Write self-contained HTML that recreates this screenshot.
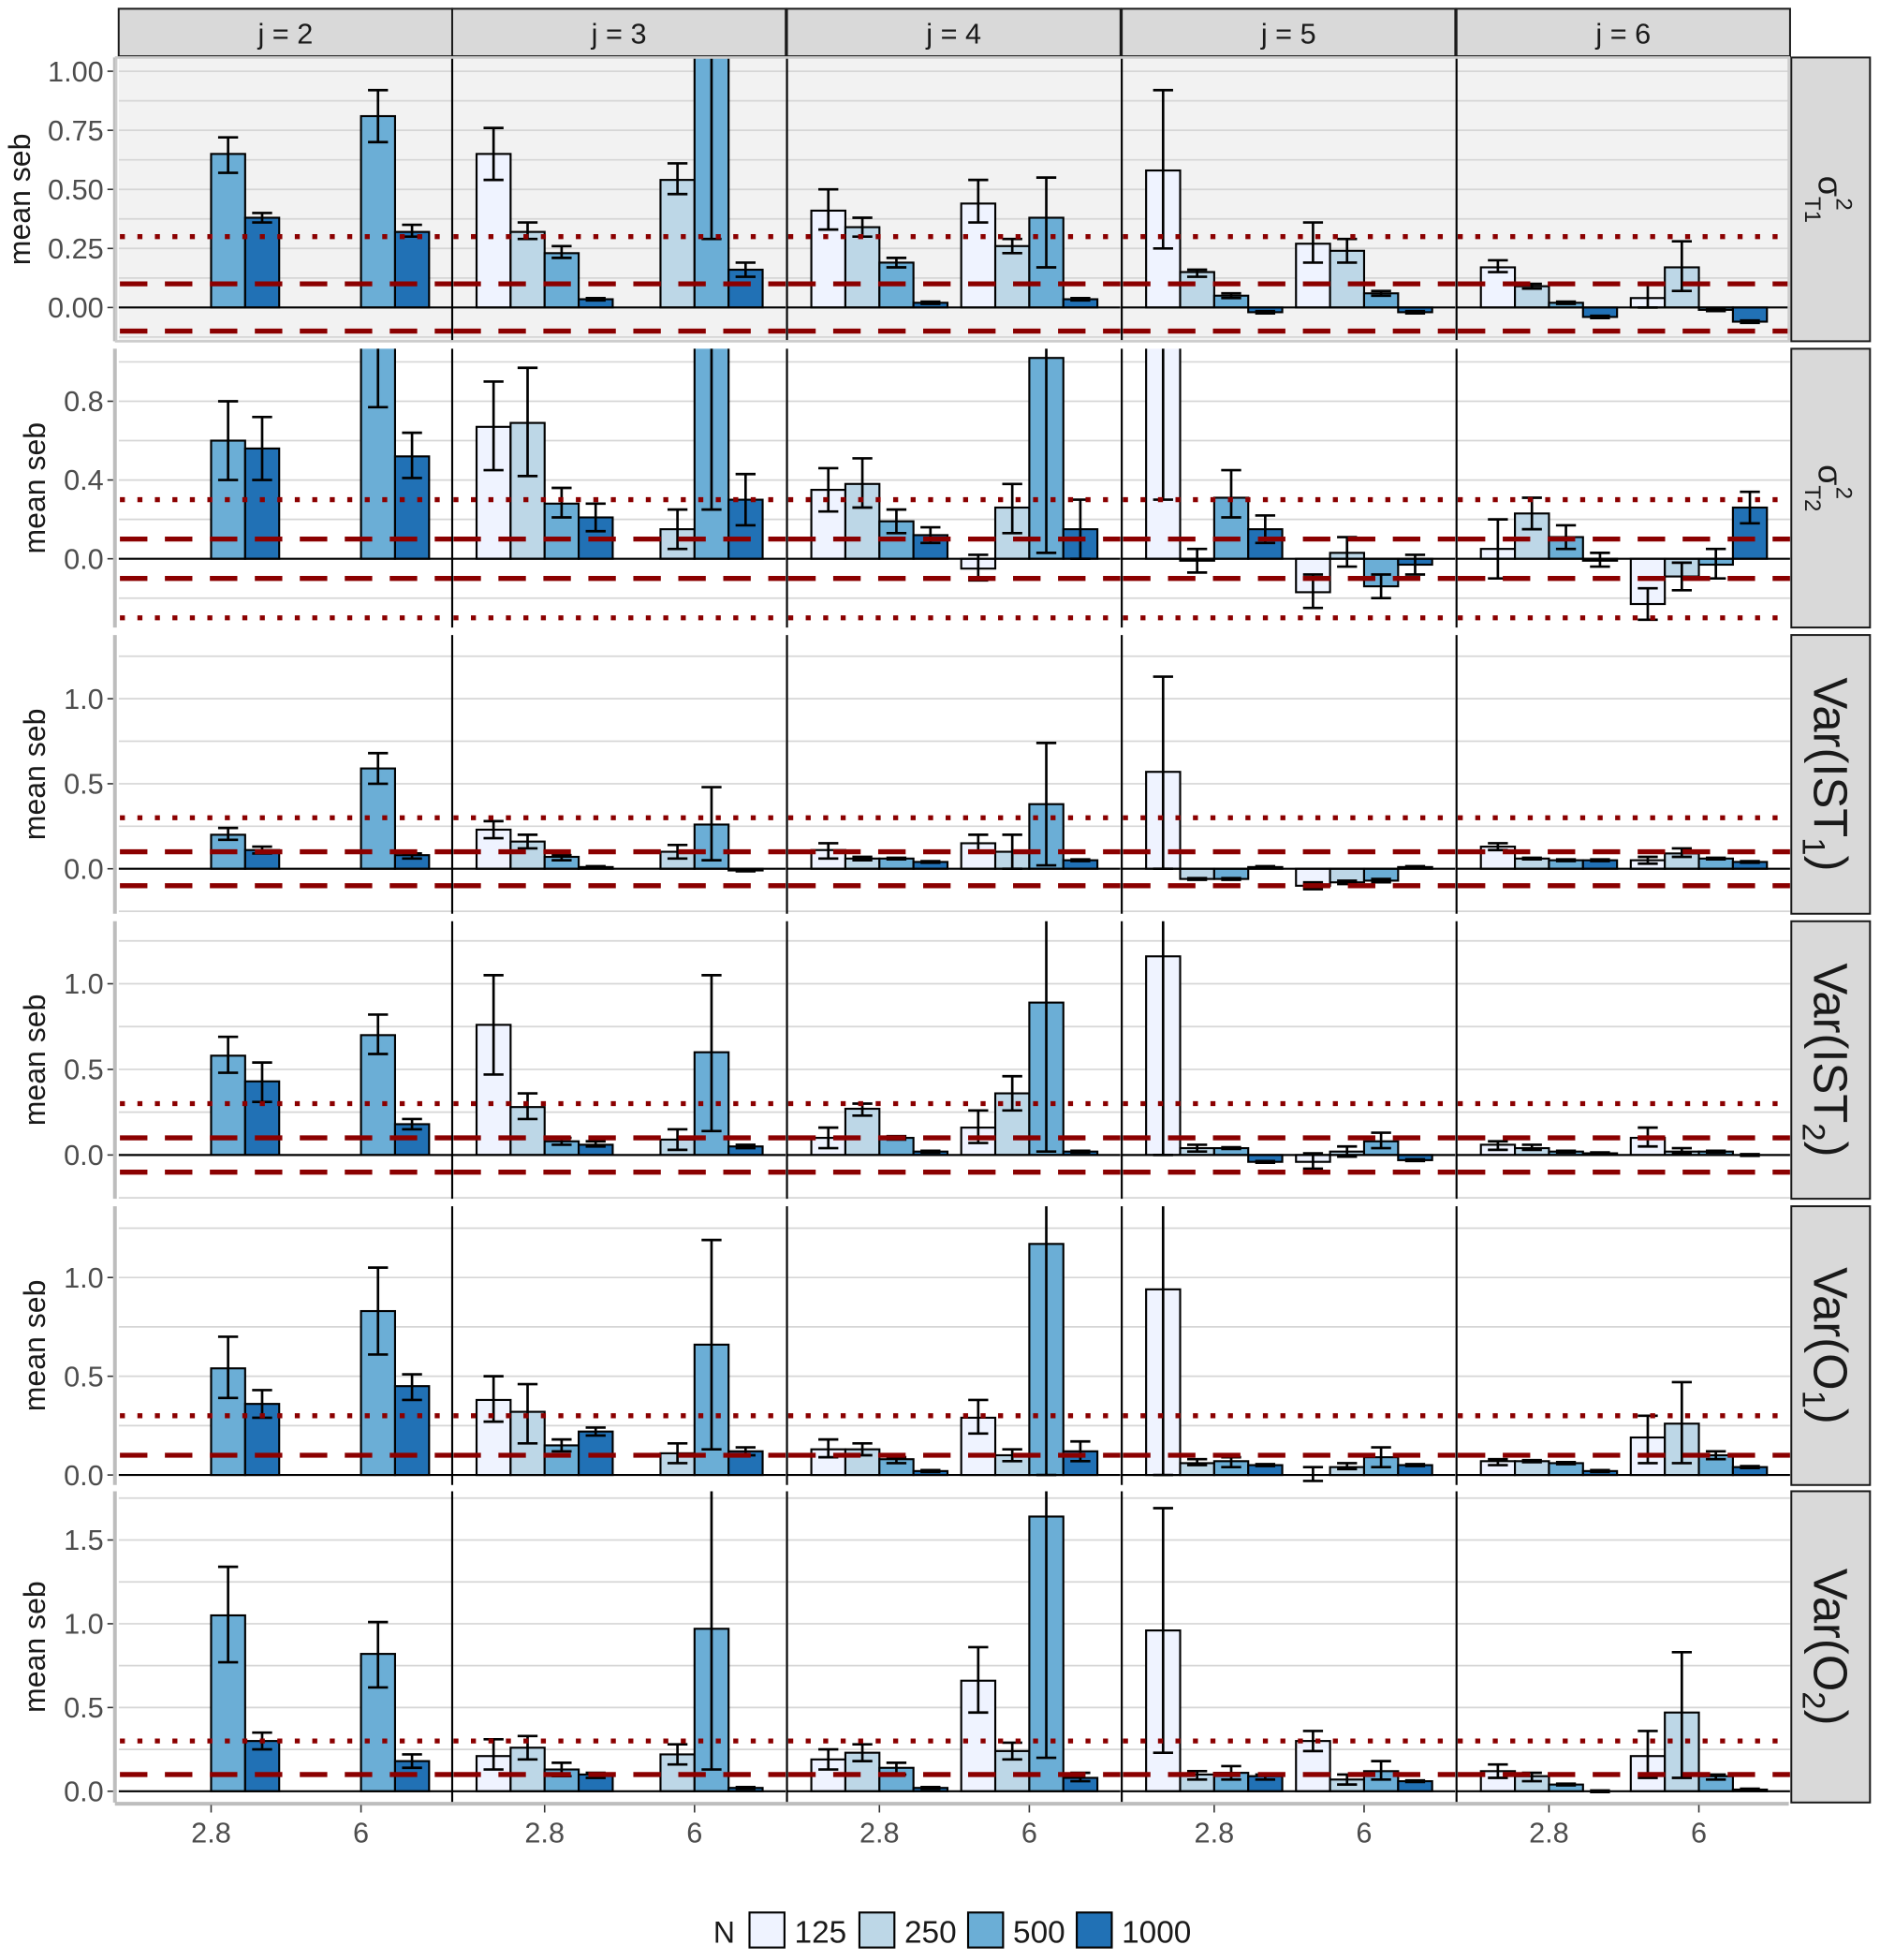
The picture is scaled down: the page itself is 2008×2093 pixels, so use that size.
<!DOCTYPE html>
<html><head><meta charset="utf-8"><style>
html,body{margin:0;padding:0;background:#fff;}
svg{display:block;font-family:"Liberation Sans",sans-serif;}
</style></head><body>
<svg id="chart" width="2008" height="2093" viewBox="0 0 1505 1568" preserveAspectRatio="none" xmlns="http://www.w3.org/2000/svg"></svg>
<script>
const jLabels = ["j = 2","j = 3","j = 4","j = 5","j = 6"];
const xCats = ["2.8","6"];
const nLevels = ["125","250","500","1000"];
const nColors = ["#eff3ff","#bdd7e7","#6baed6","#2171b5"];
// each row: 5 facets (j) x 8 values [2.8:N125,N250,N500,N1000, 6:N125,N250,N500,N1000]
const meanT1 = [
 [null,null,.65,.38, null,null,.81,.32],
 [.65,.32,.23,.035, null,.54,1.2,.16],
 [.41,.34,.19,.02, .44,.26,.38,.035],
 [.58,.15,.05,-.02, .27,.24,.06,-.02],
 [.17,.09,.02,-.04, .04,.17,-.01,-.06]];
const loT1 = [
 [null,null,.57,.36, null,null,.70,.30],
 [.54,.29,.21,.03, null,.48,.29,.13],
 [.33,.30,.17,.015, .36,.23,.17,.03],
 [.25,.13,.04,-.025, .19,.19,.05,-.025],
 [.15,.08,.015,-.045, 0,.07,-.015,-.065]];
const hiT1 = [
 [null,null,.72,.40, null,null,.92,.35],
 [.76,.36,.26,.04, null,.61,1.3,.19],
 [.50,.38,.21,.025, .54,.29,.55,.04],
 [.92,.16,.06,-.015, .36,.29,.07,-.015],
 [.20,.10,.025,-.035, .10,.28,-.005,-.055]];
const meanT2 = [
 [null,null,.60,.56, null,null,1.3,.52],
 [.67,.69,.28,.21, null,.15,1.3,.30],
 [.35,.38,.19,.12, -.05,.26,1.02,.15],
 [1.3,-.01,.31,.15, -.17,.03,-.14,-.03],
 [.05,.23,.11,-.01, -.23,-.09,-.03,.26]];
const loT2 = [
 [null,null,.40,.40, null,null,.77,.41],
 [.45,.42,.21,.14, null,.05,.25,.17],
 [.24,.26,.13,.08, -.11,.13,.03,0],
 [.30,-.07,.21,.08, -.25,-.04,-.20,-.08],
 [-.1,.15,.05,-.04, -.31,-.16,-.1,.18]];
const hiT2 = [
 [null,null,.80,.72, null,null,1.3,.64],
 [.90,.97,.36,.28, null,.25,1.3,.43],
 [.46,.51,.25,.16, .02,.38,1.3,.30],
 [1.3,.05,.45,.22, -.08,.11,-.08,.02],
 [.20,.31,.17,.03, -.15,-.02,.05,.34]];
const meanI1 = [
 [null,null,.20,.11, null,null,.59,.08],
 [.23,.16,.07,.01, null,.10,.26,-.01],
 [.11,.06,.06,.04, .15,.10,.38,.05],
 [.57,-.06,-.06,.01, -.10,-.08,-.07,.01],
 [.13,.06,.05,.05, .05,.09,.06,.04]];
const loI1 = [
 [null,null,.17,.09, null,null,.50,.06],
 [.18,.12,.05,.005, null,.06,.05,-.015],
 [.06,.05,.055,.035, .10,0,.02,.045],
 [0,-.065,-.065,.005, -.12,-.09,-.08,.005],
 [.11,.055,.045,.045, .03,.07,.055,.035]];
const hiI1 = [
 [null,null,.24,.13, null,null,.68,.09],
 [.28,.20,.08,.015, null,.14,.48,-.005],
 [.15,.07,.065,.045, .20,.20,.74,.055],
 [1.13,-.055,-.055,.015, -.08,-.07,-.06,.015],
 [.15,.065,.055,.055, .07,.12,.065,.045]];
const meanI2 = [
 [null,null,.58,.43, null,null,.70,.18],
 [.76,.28,.08,.06, null,.09,.60,.05],
 [.10,.27,.10,.02, .16,.36,.89,.02],
 [1.16,.04,.04,-.04, -.04,.02,.08,-.03],
 [.06,.04,.02,.01, .10,.02,.02,0]];
const loI2 = [
 [null,null,.48,.31, null,null,.59,.15],
 [.47,.21,.06,.05, null,.03,.14,.04],
 [.04,.23,.09,.015, .07,.26,.02,.015],
 [0,.02,.035,-.045, -.08,-.01,.04,-.035],
 [.03,.03,.015,.005, .05,.01,.015,-.005]];
const hiI2 = [
 [null,null,.69,.54, null,null,.82,.21],
 [1.05,.36,.10,.08, null,.15,1.05,.06],
 [.16,.30,.11,.025, .26,.46,1.4,.025],
 [1.4,.06,.045,-.035, .01,.05,.13,-.025],
 [.08,.06,.025,.015, .16,.04,.025,.005]];
const meanO1 = [
 [null,null,.54,.36, null,null,.83,.45],
 [.38,.32,.15,.22, null,.11,.66,.12],
 [.13,.13,.08,.02, .29,.10,1.17,.12],
 [.94,.06,.07,.05, 0,.04,.09,.05],
 [.07,.07,.06,.02, .19,.26,.10,.04]];
const loO1 = [
 [null,null,.39,.29, null,null,.61,.38],
 [.27,.16,.12,.20, null,.06,.13,.10],
 [.09,.10,.06,.015, .21,.07,0,.07],
 [0,.05,.04,.045, -.03,.03,.04,.045],
 [.05,.065,.055,.015, .06,.06,.08,.035]];
const hiO1 = [
 [null,null,.70,.43, null,null,1.05,.51],
 [.50,.46,.18,.24, null,.16,1.19,.14],
 [.18,.16,.09,.025, .38,.13,1.4,.17],
 [1.4,.08,.09,.055, .04,.06,.14,.055],
 [.08,.075,.065,.025, .30,.47,.12,.045]];
const meanO2 = [
 [null,null,1.05,.30, null,null,.82,.18],
 [.21,.26,.13,.10, null,.22,.97,.02],
 [.19,.23,.14,.02, .66,.24,1.64,.08],
 [.96,.10,.11,.09, .30,.07,.12,.06],
 [.12,.09,.04,0, .21,.47,.09,.01]];
const loO2 = [
 [null,null,.77,.25, null,null,.62,.14],
 [.13,.19,.09,.08, null,.16,.13,.015],
 [.13,.18,.10,.015, .47,.19,.20,.06],
 [.23,.07,.07,.07, .24,.04,.07,.055],
 [.08,.06,.035,-.005, .08,.08,.07,.005]];
const hiO2 = [
 [null,null,1.34,.35, null,null,1.01,.22],
 [.31,.33,.17,.11, null,.28,1.9,.025],
 [.25,.28,.17,.025, .86,.29,1.9,.11],
 [1.69,.12,.15,.10, .36,.10,.18,.065],
 [.16,.11,.045,.005, .36,.83,.10,.015]];
const yTicksR1 = [0,0.25,0.5,0.75,1];
const yTickLabR1 = ["0.00","0.25","0.50","0.75","1.00"];
const yTicksR2 = [0,0.4,0.8];
const yTickLabR2 = ["0.0","0.4","0.8"];
const yTicksR3 = [0,0.5,1];
const yTickLabR3 = ["0.0","0.5","1.0"];
const yTicksR6 = [0,0.5,1,1.5];
const yTickLabR6 = ["0.0","0.5","1.0","1.5"];
const dottedR = [[0.3],[0.3,-0.3],[0.3],[0.3],[0.3],[0.3]];
const dashedR = [[0.1,-0.1],[0.1,-0.1],[0.1,-0.1],[0.1,-0.1],[0.1],[0.1]];

const rowsData = [
 {m:meanT1,lo:loT1,hi:hiT1,ticks:yTicksR1,labs:yTickLabR1,name:"sigma-t1"},
 {m:meanT2,lo:loT2,hi:hiT2,ticks:yTicksR2,labs:yTickLabR2,name:"sigma-t2"},
 {m:meanI1,lo:loI1,hi:hiI1,ticks:yTicksR3,labs:yTickLabR3,name:"var-ist1"},
 {m:meanI2,lo:loI2,hi:hiI2,ticks:yTicksR3,labs:yTickLabR3,name:"var-ist2"},
 {m:meanO1,lo:loO1,hi:hiO1,ticks:yTicksR3,labs:yTickLabR3,name:"var-o1"},
 {m:meanO2,lo:loO2,hi:hiO2,ticks:yTicksR6,labs:yTickLabR6,name:"var-o2"}];
// layout (px)
const rowGeom = [
 {top:46,bot:273,z:246,s:189},
 {top:279,bot:502,z:447,s:157.5},
 {top:508,bot:731,z:695,s:136},
 {top:737,bot:959,z:924,s:137},
 {top:965,bot:1188,z:1180,s:158},
 {top:1193,bot:1442,z:1433,s:134}];
const colX = [95,362,630,898,1166];
const colW = 267;

const NS="http://www.w3.org/2000/svg";
const svg=document.getElementById('chart');
function mk(tag,attrs,parent){const e=document.createElementNS(NS,tag);for(const k in attrs)e.setAttribute(k,attrs[k]);(parent||svg).appendChild(e);return e;}
const defs=mk('defs',{});

// column strips
jLabels.forEach((lab,ci)=>{
  const g=mk('g',{});
  
  
  mk('rect',{x:colX[ci],y:7,width:colW,height:38,fill:'#d9d9d9',stroke:'#1a1a1a','stroke-width':1.5},g);
  const t=mk('text',{x:colX[ci]+colW/2,y:35,'text-anchor':'middle','font-size':23,fill:'#1a1a1a'},g);
  t.textContent=lab;
});

rowsData.forEach((rd,ri)=>{
  const G=rowGeom[ri];
  const yv=v=>G.z - v*G.s;
  const vmin=(G.z-G.bot)/G.s, vmax=(G.z-G.top)/G.s;
  const step=rd.ticks[1]-rd.ticks[0];
  const rowG=mk('g',{});
  
  
  rd.ticks.forEach((tv,k)=>{
    const y=yv(tv);
    mk('line',{x1:86,x2:91,y1:y,y2:y,stroke:'#333','stroke-width':1.2},rowG);
    const t=mk('text',{x:83,y:y+8,'text-anchor':'end','font-size':23,fill:'#4d4d4d'},rowG);
    
    
    t.textContent=rd.labs[k];
  });
  const yt=mk('text',{transform:`translate(${ri==0?24:36},${(G.top+G.bot)/2}) rotate(-90)`,'text-anchor':'middle','font-size':24,fill:'#1a1a1a'},rowG);
  
  
  yt.textContent='mean seb';

  colX.forEach((x0,ci)=>{
    const pg=mk('g',{},rowG);
    
    
    const cid='clip'+ri+'_'+ci;
    const cp=mk('clipPath',{id:cid},defs);
    mk('rect',{x:x0,y:G.top,width:colW,height:G.bot-G.top},cp);
    mk('rect',{x:x0,y:G.top,width:colW,height:G.bot-G.top,fill:ri==0?'#f2f2f2':'#ffffff'},pg);
    const inner=mk('g',{'clip-path':`url(#${cid})`},pg);
    for(let v=Math.floor(vmin/step)*step - step; v<=vmax+step; v+=step/2){
      if(v<vmin||v>vmax) continue;
      mk('line',{x1:x0,x2:x0+colW,y1:yv(v),y2:yv(v),stroke:'#d6d6d6','stroke-width':1.3},inner);
    }
    const vals=rd.m[ci];
    vals.forEach((v,k)=>{
      if(v===null) return;
      const cat=Math.floor(k/4), n=k%4;
      const c=x0+(cat==0?74:194);
      const bx=c-54.5+n*27.25;
      const y0=yv(0), y1=yv(v);
      const r=mk('rect',{x:bx,y:Math.min(y0,y1),width:27.25,height:Math.abs(y0-y1),fill:nColors[n],stroke:'#000','stroke-width':1.6},inner);
      
      
    });
    vals.forEach((v,k)=>{
      if(v===null) return;
      const cat=Math.floor(k/4), n=k%4;
      const c=x0+(cat==0?74:194);
      const mx=c-54.5+n*27.25+13.6;
      const ylo=yv(rd.lo[ci][k]), yhi=yv(rd.hi[ci][k]);
      const eb=mk('path',{d:`M${mx-8},${yhi}H${mx+8}M${mx},${yhi}V${ylo}M${mx-8},${ylo}H${mx+8}`,stroke:'#000','stroke-width':2,fill:'none'},inner);
      
      
    });
    mk('line',{x1:x0,x2:x0+colW,y1:yv(0),y2:yv(0),stroke:'#000','stroke-width':1.6},inner);
    dottedR[ri].forEach(v=>{
      const l=mk('line',{x1:x0+1,x2:x0+colW,y1:yv(v),y2:yv(v),stroke:'#8b0000','stroke-width':4,'stroke-dasharray':'4 10'},inner);
      
      
    });
    dashedR[ri].forEach(v=>{
      const l=mk('line',{x1:x0+1,x2:x0+colW,y1:yv(v),y2:yv(v),stroke:'#8b0000','stroke-width':4,'stroke-dasharray':'22 14'},inner);
      
      
    });
    if(ci>0) mk('line',{x1:x0,x2:x0,y1:G.top,y2:G.bot,stroke:'#000','stroke-width':1.6},pg);
  });
  mk('line',{x1:92,x2:92,y1:G.top,y2:G.bot,stroke:'#bdbdbd','stroke-width':3},rowG);
  if(ri==0) mk('rect',{x:93,y:G.top,width:1339,height:G.bot-G.top,fill:'none',stroke:'#cccccc','stroke-width':2},rowG);
  const sg=mk('g',{},rowG);
  
  
  mk('rect',{x:1434,y:G.top,width:63,height:G.bot-G.top,fill:'#d9d9d9',stroke:'#1a1a1a','stroke-width':1.5},sg);
  const cx=1466, cy=(G.top+G.bot)/2;
  if(ri<2){
    const t=mk('text',{transform:`translate(${cx-10},${cy}) rotate(90)`,'text-anchor':'middle','font-size':27,fill:'#1a1a1a'},sg);
    t.innerHTML='σ<tspan font-size="18" dy="11">T'+(ri+1)+'</tspan><tspan font-size="18" dx="-20" dy="-25">2</tspan>';
  } else {
    const base=['IST','IST','O','O'][ri-2], sub=['1','2','1','2'][ri-2];
    const t=mk('text',{transform:`translate(${cx-14},${cy}) rotate(90)`,'text-anchor':'middle','font-size':38,fill:'#1a1a1a'},sg);
    t.innerHTML='Var('+base+'<tspan font-size="26" dy="9">'+sub+'</tspan><tspan dy="-9">)</tspan>';
  }
});

mk('line',{x1:92,x2:1432,y1:1443,y2:1443,stroke:'#bdbdbd','stroke-width':3});
colX.forEach((x0,ci)=>{
  xCats.forEach((lab,k)=>{
    const x=x0+(k==0?74:194);
    mk('line',{x1:x,x2:x,y1:1444,y2:1450,stroke:'#333','stroke-width':1.2});
    const t=mk('text',{x:x,y:1474,'text-anchor':'middle','font-size':23,fill:'#4d4d4d'});
    
    
    t.textContent=lab;
  });
});

const lg=mk('g',{});


const lt=mk('text',{x:571,y:1554,'font-size':24,fill:'#1a1a1a'},lg);
lt.textContent='N';
const legX=[600,688,775,862];
nLevels.forEach((n,i)=>{
  const e=mk('g',{},lg);
  
  
  mk('rect',{x:legX[i],y:1530,width:28,height:28,fill:nColors[i],stroke:'#000','stroke-width':1.6},e);
  const t=mk('text',{x:legX[i]+36,y:1554,'font-size':25,fill:'#1a1a1a'},e);
  t.textContent=n;
});
</script>
</body></html>
